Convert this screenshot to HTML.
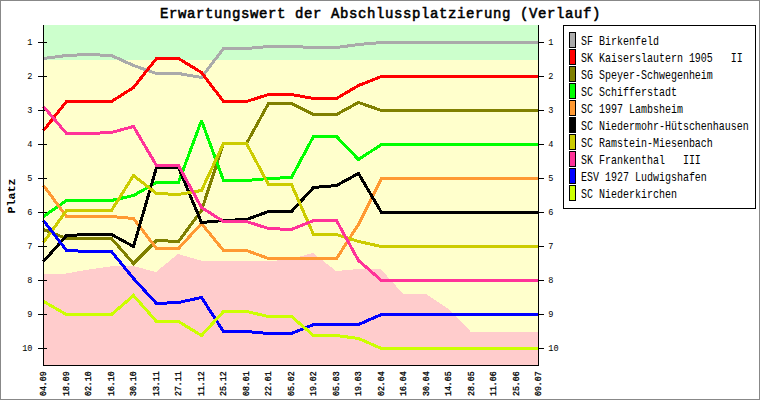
<!DOCTYPE html><html><head><meta charset="utf-8"><style>
html,body{margin:0;padding:0;background:#fff;}svg{display:block;}
text{font-family:"Liberation Mono",monospace;}
</style></head><body>
<svg width="760" height="400" viewBox="0 0 760 400">
<rect x="0" y="0" width="760" height="400" fill="#ffffff"/>
<rect x="0.5" y="0.5" width="759" height="399" fill="none" stroke="#888888" stroke-width="1"/>
<rect x="43" y="25" width="495" height="340" fill="#ffffcc" shape-rendering="crispEdges"/>
<rect x="43" y="25" width="495" height="35" fill="#ccffcc" shape-rendering="crispEdges"/>
<polygon points="43,365 43,274 66,273.5 88,269.6 111,266.3 133,266 156,272 178,254 201,260.6 223,261.4 246,261.4 268,261.4 291,259 313,253 336,271 358,269 381,269.4 403,293.8 426,294 448,308.8 471,332 493,332 516,332 538,332 538,365" fill="#ffcccc" shape-rendering="crispEdges"/>
<path d="M38,42.5H47M535,42.5H544M38,76.5H47M535,76.5H544M38,110.5H47M535,110.5H544M38,144.5H47M535,144.5H544M38,178.5H47M535,178.5H544M38,212.5H47M535,212.5H544M38,246.5H47M535,246.5H544M38,280.5H47M535,280.5H544M38,314.5H47M535,314.5H544M38,348.5H47M535,348.5H544" stroke="#000" stroke-width="1" fill="none" shape-rendering="crispEdges"/>
<polyline points="43.49,58.5 66.49,55.5 88.49,54.5 111.49,55.5 133.49,65.5 156.49,73.5 178.49,73.5 201.49,77.5 223.49,48.5 246.49,48.5 268.49,46.5 291.49,46.5 313.49,47.5 336.49,47.5 358.49,44.5 381.49,42.5 403.49,42.5 426.49,42.5 448.49,42.5 471.49,42.5 493.49,42.5 516.49,42.5 538.49,42.5" fill="none" stroke="#aaaaaa" stroke-width="3" stroke-linecap="butt" stroke-linejoin="miter" stroke-miterlimit="2" shape-rendering="crispEdges"/>
<path d="M43.49,58.5L66.49,55.5M66.49,55.5L88.49,54.5M88.49,54.5L111.49,55.5M111.49,55.5L133.49,65.5M133.49,65.5L156.49,73.5M156.49,73.5L178.49,73.5M178.49,73.5L201.49,77.5M201.49,77.5L223.49,48.5M223.49,48.5L246.49,48.5M246.49,48.5L268.49,46.5M268.49,46.5L291.49,46.5M291.49,46.5L313.49,47.5M313.49,47.5L336.49,47.5M336.49,47.5L358.49,44.5M358.49,44.5L381.49,42.5M381.49,42.5L403.49,42.5M403.49,42.5L426.49,42.5M426.49,42.5L448.49,42.5M448.49,42.5L471.49,42.5M471.49,42.5L493.49,42.5M493.49,42.5L516.49,42.5M516.49,42.5L538.49,42.5" fill="none" stroke="#aaaaaa" stroke-width="3" stroke-linecap="butt" shape-rendering="crispEdges"/>
<polyline points="43.49,130.5 66.49,101.5 88.49,101.5 111.49,101.5 133.49,87.5 156.49,58.5 178.49,58.5 201.49,72.5 223.49,101.5 246.49,101.5 268.49,94.5 291.49,94.5 313.49,98.5 336.49,98.5 358.49,85.5 381.49,76.5 403.49,76.5 426.49,76.5 448.49,76.5 471.49,76.5 493.49,76.5 516.49,76.5 538.49,76.5" fill="none" stroke="#ff0000" stroke-width="3" stroke-linecap="butt" stroke-linejoin="miter" stroke-miterlimit="2" shape-rendering="crispEdges"/>
<path d="M43.49,130.5L66.49,101.5M66.49,101.5L88.49,101.5M88.49,101.5L111.49,101.5M111.49,101.5L133.49,87.5M133.49,87.5L156.49,58.5M156.49,58.5L178.49,58.5M178.49,58.5L201.49,72.5M201.49,72.5L223.49,101.5M223.49,101.5L246.49,101.5M246.49,101.5L268.49,94.5M268.49,94.5L291.49,94.5M291.49,94.5L313.49,98.5M313.49,98.5L336.49,98.5M336.49,98.5L358.49,85.5M358.49,85.5L381.49,76.5M381.49,76.5L403.49,76.5M403.49,76.5L426.49,76.5M426.49,76.5L448.49,76.5M448.49,76.5L471.49,76.5M471.49,76.5L493.49,76.5M493.49,76.5L516.49,76.5M516.49,76.5L538.49,76.5" fill="none" stroke="#ff0000" stroke-width="3" stroke-linecap="butt" shape-rendering="crispEdges"/>
<polyline points="43.49,229.5 66.49,238.5 88.49,238.5 111.49,238.5 133.49,263.5 156.49,240.5 178.49,241.5 201.49,210.5 223.49,143.5 246.49,143.5 268.49,103.5 291.49,103.5 313.49,114.5 336.49,114.5 358.49,102.5 381.49,110.5 403.49,110.5 426.49,110.5 448.49,110.5 471.49,110.5 493.49,110.5 516.49,110.5 538.49,110.5" fill="none" stroke="#808000" stroke-width="3" stroke-linecap="butt" stroke-linejoin="miter" stroke-miterlimit="2" shape-rendering="crispEdges"/>
<path d="M43.49,229.5L66.49,238.5M66.49,238.5L88.49,238.5M88.49,238.5L111.49,238.5M111.49,238.5L133.49,263.5M133.49,263.5L156.49,240.5M156.49,240.5L178.49,241.5M178.49,241.5L201.49,210.5M201.49,210.5L223.49,143.5M223.49,143.5L246.49,143.5M246.49,143.5L268.49,103.5M268.49,103.5L291.49,103.5M291.49,103.5L313.49,114.5M313.49,114.5L336.49,114.5M336.49,114.5L358.49,102.5M358.49,102.5L381.49,110.5M381.49,110.5L403.49,110.5M403.49,110.5L426.49,110.5M426.49,110.5L448.49,110.5M448.49,110.5L471.49,110.5M471.49,110.5L493.49,110.5M493.49,110.5L516.49,110.5M516.49,110.5L538.49,110.5" fill="none" stroke="#808000" stroke-width="3" stroke-linecap="butt" shape-rendering="crispEdges"/>
<polyline points="43.49,216.5 66.49,200.5 88.49,200.5 111.49,200.5 133.49,195.5 156.49,182.5 178.49,182.5 201.49,120.5 223.49,180.5 246.49,180.5 268.49,178.5 291.49,177.5 313.49,136.5 336.49,136.5 358.49,159.5 381.49,144.5 403.49,144.5 426.49,144.5 448.49,144.5 471.49,144.5 493.49,144.5 516.49,144.5 538.49,144.5" fill="none" stroke="#00ff00" stroke-width="3" stroke-linecap="butt" stroke-linejoin="miter" stroke-miterlimit="2" shape-rendering="crispEdges"/>
<path d="M43.49,216.5L66.49,200.5M66.49,200.5L88.49,200.5M88.49,200.5L111.49,200.5M111.49,200.5L133.49,195.5M133.49,195.5L156.49,182.5M156.49,182.5L178.49,182.5M178.49,182.5L201.49,120.5M201.49,120.5L223.49,180.5M223.49,180.5L246.49,180.5M246.49,180.5L268.49,178.5M268.49,178.5L291.49,177.5M291.49,177.5L313.49,136.5M313.49,136.5L336.49,136.5M336.49,136.5L358.49,159.5M358.49,159.5L381.49,144.5M381.49,144.5L403.49,144.5M403.49,144.5L426.49,144.5M426.49,144.5L448.49,144.5M448.49,144.5L471.49,144.5M471.49,144.5L493.49,144.5M493.49,144.5L516.49,144.5M516.49,144.5L538.49,144.5" fill="none" stroke="#00ff00" stroke-width="3" stroke-linecap="butt" shape-rendering="crispEdges"/>
<polyline points="43.49,185.5 66.49,216.5 88.49,216.5 111.49,216.5 133.49,218.5 156.49,248.5 178.49,248.5 201.49,223.5 223.49,250.5 246.49,250.5 268.49,258.5 291.49,258.5 313.49,258.5 336.49,258.5 358.49,224.5 381.49,178.5 403.49,178.5 426.49,178.5 448.49,178.5 471.49,178.5 493.49,178.5 516.49,178.5 538.49,178.5" fill="none" stroke="#ff9933" stroke-width="3" stroke-linecap="butt" stroke-linejoin="miter" stroke-miterlimit="2" shape-rendering="crispEdges"/>
<path d="M43.49,185.5L66.49,216.5M66.49,216.5L88.49,216.5M88.49,216.5L111.49,216.5M111.49,216.5L133.49,218.5M133.49,218.5L156.49,248.5M156.49,248.5L178.49,248.5M178.49,248.5L201.49,223.5M201.49,223.5L223.49,250.5M223.49,250.5L246.49,250.5M246.49,250.5L268.49,258.5M268.49,258.5L291.49,258.5M291.49,258.5L313.49,258.5M313.49,258.5L336.49,258.5M336.49,258.5L358.49,224.5M358.49,224.5L381.49,178.5M381.49,178.5L403.49,178.5M403.49,178.5L426.49,178.5M426.49,178.5L448.49,178.5M448.49,178.5L471.49,178.5M471.49,178.5L493.49,178.5M493.49,178.5L516.49,178.5M516.49,178.5L538.49,178.5" fill="none" stroke="#ff9933" stroke-width="3" stroke-linecap="butt" shape-rendering="crispEdges"/>
<polyline points="43.49,261.5 66.49,235.5 88.49,234.5 111.49,234.5 133.49,246.5 156.49,167.5 178.49,167.5 201.49,222.5 223.49,220.5 246.49,219.5 268.49,211.5 291.49,211.5 313.49,187.5 336.49,185.5 358.49,173.5 381.49,212.5 403.49,212.5 426.49,212.5 448.49,212.5 471.49,212.5 493.49,212.5 516.49,212.5 538.49,212.5" fill="none" stroke="#000000" stroke-width="3" stroke-linecap="butt" stroke-linejoin="miter" stroke-miterlimit="2" shape-rendering="crispEdges"/>
<path d="M43.49,261.5L66.49,235.5M66.49,235.5L88.49,234.5M88.49,234.5L111.49,234.5M111.49,234.5L133.49,246.5M133.49,246.5L156.49,167.5M156.49,167.5L178.49,167.5M178.49,167.5L201.49,222.5M201.49,222.5L223.49,220.5M223.49,220.5L246.49,219.5M246.49,219.5L268.49,211.5M268.49,211.5L291.49,211.5M291.49,211.5L313.49,187.5M313.49,187.5L336.49,185.5M336.49,185.5L358.49,173.5M358.49,173.5L381.49,212.5M381.49,212.5L403.49,212.5M403.49,212.5L426.49,212.5M426.49,212.5L448.49,212.5M448.49,212.5L471.49,212.5M471.49,212.5L493.49,212.5M493.49,212.5L516.49,212.5M516.49,212.5L538.49,212.5" fill="none" stroke="#000000" stroke-width="3" stroke-linecap="butt" shape-rendering="crispEdges"/>
<polyline points="43.49,242.5 66.49,210.5 88.49,210.5 111.49,210.5 133.49,175.5 156.49,193.5 178.49,194.5 201.49,190.5 223.49,143.5 246.49,143.5 268.49,184.5 291.49,184.5 313.49,234.5 336.49,234.5 358.49,241.5 381.49,246.5 403.49,246.5 426.49,246.5 448.49,246.5 471.49,246.5 493.49,246.5 516.49,246.5 538.49,246.5" fill="none" stroke="#cccc00" stroke-width="3" stroke-linecap="butt" stroke-linejoin="miter" stroke-miterlimit="2" shape-rendering="crispEdges"/>
<path d="M43.49,242.5L66.49,210.5M66.49,210.5L88.49,210.5M88.49,210.5L111.49,210.5M111.49,210.5L133.49,175.5M133.49,175.5L156.49,193.5M156.49,193.5L178.49,194.5M178.49,194.5L201.49,190.5M201.49,190.5L223.49,143.5M223.49,143.5L246.49,143.5M246.49,143.5L268.49,184.5M268.49,184.5L291.49,184.5M291.49,184.5L313.49,234.5M313.49,234.5L336.49,234.5M336.49,234.5L358.49,241.5M358.49,241.5L381.49,246.5M381.49,246.5L403.49,246.5M403.49,246.5L426.49,246.5M426.49,246.5L448.49,246.5M448.49,246.5L471.49,246.5M471.49,246.5L493.49,246.5M493.49,246.5L516.49,246.5M516.49,246.5L538.49,246.5" fill="none" stroke="#cccc00" stroke-width="3" stroke-linecap="butt" shape-rendering="crispEdges"/>
<polyline points="43.49,106.5 66.49,133.5 88.49,133.5 111.49,132.5 133.49,126.5 156.49,165.5 178.49,165.5 201.49,207.5 223.49,221.5 246.49,221.5 268.49,228.5 291.49,229.5 313.49,220.5 336.49,220.5 358.49,260.5 381.49,280.5 403.49,280.5 426.49,280.5 448.49,280.5 471.49,280.5 493.49,280.5 516.49,280.5 538.49,280.5" fill="none" stroke="#ff3399" stroke-width="3" stroke-linecap="butt" stroke-linejoin="miter" stroke-miterlimit="2" shape-rendering="crispEdges"/>
<path d="M43.49,106.5L66.49,133.5M66.49,133.5L88.49,133.5M88.49,133.5L111.49,132.5M111.49,132.5L133.49,126.5M133.49,126.5L156.49,165.5M156.49,165.5L178.49,165.5M178.49,165.5L201.49,207.5M201.49,207.5L223.49,221.5M223.49,221.5L246.49,221.5M246.49,221.5L268.49,228.5M268.49,228.5L291.49,229.5M291.49,229.5L313.49,220.5M313.49,220.5L336.49,220.5M336.49,220.5L358.49,260.5M358.49,260.5L381.49,280.5M381.49,280.5L403.49,280.5M403.49,280.5L426.49,280.5M426.49,280.5L448.49,280.5M448.49,280.5L471.49,280.5M471.49,280.5L493.49,280.5M493.49,280.5L516.49,280.5M516.49,280.5L538.49,280.5" fill="none" stroke="#ff3399" stroke-width="3" stroke-linecap="butt" shape-rendering="crispEdges"/>
<polyline points="43.49,220.5 66.49,250.5 88.49,251.5 111.49,251.5 133.49,278.5 156.49,303.5 178.49,302.5 201.49,297.5 223.49,331.5 246.49,331.5 268.49,333.5 291.49,333.5 313.49,324.5 336.49,324.5 358.49,324.5 381.49,314.5 403.49,314.5 426.49,314.5 448.49,314.5 471.49,314.5 493.49,314.5 516.49,314.5 538.49,314.5" fill="none" stroke="#0000ff" stroke-width="3" stroke-linecap="butt" stroke-linejoin="miter" stroke-miterlimit="2" shape-rendering="crispEdges"/>
<path d="M43.49,220.5L66.49,250.5M66.49,250.5L88.49,251.5M88.49,251.5L111.49,251.5M111.49,251.5L133.49,278.5M133.49,278.5L156.49,303.5M156.49,303.5L178.49,302.5M178.49,302.5L201.49,297.5M201.49,297.5L223.49,331.5M223.49,331.5L246.49,331.5M246.49,331.5L268.49,333.5M268.49,333.5L291.49,333.5M291.49,333.5L313.49,324.5M313.49,324.5L336.49,324.5M336.49,324.5L358.49,324.5M358.49,324.5L381.49,314.5M381.49,314.5L403.49,314.5M403.49,314.5L426.49,314.5M426.49,314.5L448.49,314.5M448.49,314.5L471.49,314.5M471.49,314.5L493.49,314.5M493.49,314.5L516.49,314.5M516.49,314.5L538.49,314.5" fill="none" stroke="#0000ff" stroke-width="3" stroke-linecap="butt" shape-rendering="crispEdges"/>
<polyline points="43.49,301.5 66.49,314.5 88.49,314.5 111.49,314.5 133.49,295.5 156.49,321.5 178.49,321.5 201.49,335.5 223.49,311.5 246.49,311.5 268.49,316.5 291.49,316.5 313.49,335.5 336.49,335.5 358.49,338.5 381.49,348.5 403.49,348.5 426.49,348.5 448.49,348.5 471.49,348.5 493.49,348.5 516.49,348.5 538.49,348.5" fill="none" stroke="#ccff00" stroke-width="3" stroke-linecap="butt" stroke-linejoin="miter" stroke-miterlimit="2" shape-rendering="crispEdges"/>
<path d="M43.49,301.5L66.49,314.5M66.49,314.5L88.49,314.5M88.49,314.5L111.49,314.5M111.49,314.5L133.49,295.5M133.49,295.5L156.49,321.5M156.49,321.5L178.49,321.5M178.49,321.5L201.49,335.5M201.49,335.5L223.49,311.5M223.49,311.5L246.49,311.5M246.49,311.5L268.49,316.5M268.49,316.5L291.49,316.5M291.49,316.5L313.49,335.5M313.49,335.5L336.49,335.5M336.49,335.5L358.49,338.5M358.49,338.5L381.49,348.5M381.49,348.5L403.49,348.5M403.49,348.5L426.49,348.5M426.49,348.5L448.49,348.5M448.49,348.5L471.49,348.5M471.49,348.5L493.49,348.5M493.49,348.5L516.49,348.5M516.49,348.5L538.49,348.5" fill="none" stroke="#ccff00" stroke-width="3" stroke-linecap="butt" shape-rendering="crispEdges"/>
<path d="M43.5,25V366M538.5,25V366M43,365.5H539" stroke="#000" stroke-width="1" fill="none" shape-rendering="crispEdges"/>
<text x="32.5" y="44.8" font-size="8.6" text-anchor="end">1</text>
<text x="548.3" y="44.8" font-size="8.6">1</text>
<text x="32.5" y="78.8" font-size="8.6" text-anchor="end">2</text>
<text x="548.3" y="78.8" font-size="8.6">2</text>
<text x="32.5" y="112.8" font-size="8.6" text-anchor="end">3</text>
<text x="548.3" y="112.8" font-size="8.6">3</text>
<text x="32.5" y="146.8" font-size="8.6" text-anchor="end">4</text>
<text x="548.3" y="146.8" font-size="8.6">4</text>
<text x="32.5" y="180.8" font-size="8.6" text-anchor="end">5</text>
<text x="548.3" y="180.8" font-size="8.6">5</text>
<text x="32.5" y="214.8" font-size="8.6" text-anchor="end">6</text>
<text x="548.3" y="214.8" font-size="8.6">6</text>
<text x="32.5" y="248.8" font-size="8.6" text-anchor="end">7</text>
<text x="548.3" y="248.8" font-size="8.6">7</text>
<text x="32.5" y="282.8" font-size="8.6" text-anchor="end">8</text>
<text x="548.3" y="282.8" font-size="8.6">8</text>
<text x="32.5" y="316.8" font-size="8.6" text-anchor="end">9</text>
<text x="548.3" y="316.8" font-size="8.6">9</text>
<text x="32.5" y="350.8" font-size="8.6" text-anchor="end">10</text>
<text x="548.3" y="350.8" font-size="8.6">10</text>
<text transform="translate(45.6,396) rotate(-90)" font-size="8.2" stroke="#000" stroke-width="0.3">04.09</text>
<text transform="translate(68.6,396) rotate(-90)" font-size="8.2" stroke="#000" stroke-width="0.3">18.09</text>
<text transform="translate(90.6,396) rotate(-90)" font-size="8.2" stroke="#000" stroke-width="0.3">02.10</text>
<text transform="translate(113.6,396) rotate(-90)" font-size="8.2" stroke="#000" stroke-width="0.3">16.10</text>
<text transform="translate(135.6,396) rotate(-90)" font-size="8.2" stroke="#000" stroke-width="0.3">30.10</text>
<text transform="translate(158.6,396) rotate(-90)" font-size="8.2" stroke="#000" stroke-width="0.3">13.11</text>
<text transform="translate(180.6,396) rotate(-90)" font-size="8.2" stroke="#000" stroke-width="0.3">27.11</text>
<text transform="translate(203.6,396) rotate(-90)" font-size="8.2" stroke="#000" stroke-width="0.3">11.12</text>
<text transform="translate(225.6,396) rotate(-90)" font-size="8.2" stroke="#000" stroke-width="0.3">25.12</text>
<text transform="translate(248.6,396) rotate(-90)" font-size="8.2" stroke="#000" stroke-width="0.3">08.01</text>
<text transform="translate(270.6,396) rotate(-90)" font-size="8.2" stroke="#000" stroke-width="0.3">22.01</text>
<text transform="translate(293.6,396) rotate(-90)" font-size="8.2" stroke="#000" stroke-width="0.3">05.02</text>
<text transform="translate(315.6,396) rotate(-90)" font-size="8.2" stroke="#000" stroke-width="0.3">19.02</text>
<text transform="translate(338.6,396) rotate(-90)" font-size="8.2" stroke="#000" stroke-width="0.3">05.03</text>
<text transform="translate(360.6,396) rotate(-90)" font-size="8.2" stroke="#000" stroke-width="0.3">19.03</text>
<text transform="translate(383.6,396) rotate(-90)" font-size="8.2" stroke="#000" stroke-width="0.3">02.04</text>
<text transform="translate(405.6,396) rotate(-90)" font-size="8.2" stroke="#000" stroke-width="0.3">16.04</text>
<text transform="translate(428.6,396) rotate(-90)" font-size="8.2" stroke="#000" stroke-width="0.3">30.04</text>
<text transform="translate(450.6,396) rotate(-90)" font-size="8.2" stroke="#000" stroke-width="0.3">14.05</text>
<text transform="translate(473.6,396) rotate(-90)" font-size="8.2" stroke="#000" stroke-width="0.3">28.05</text>
<text transform="translate(495.6,396) rotate(-90)" font-size="8.2" stroke="#000" stroke-width="0.3">11.06</text>
<text transform="translate(518.6,396) rotate(-90)" font-size="8.2" stroke="#000" stroke-width="0.3">25.06</text>
<text transform="translate(540.6,396) rotate(-90)" font-size="8.2" stroke="#000" stroke-width="0.3">09.07</text>
<text x="160" y="18" font-size="14" letter-spacing="0.6" stroke="#000" stroke-width="0.55">Erwartungswert der Abschlussplatzierung (Verlauf)</text>
<text transform="translate(15.2,196) rotate(-90)" font-size="11.7" font-weight="bold" text-anchor="middle">Platz</text>
<rect x="563.5" y="25.5" width="192" height="183" fill="#fff" stroke="#000" stroke-width="1"/>
<rect x="569.5" y="32.5" width="6" height="15" fill="#aaaaaa" stroke="#000" stroke-width="1"/>
<text transform="translate(581,45) scale(1,1.2)" font-size="10" xml:space="preserve">SF Birkenfeld</text>
<rect x="569.5" y="49.5" width="6" height="15" fill="#ff0000" stroke="#000" stroke-width="1"/>
<text transform="translate(581,62) scale(1,1.2)" font-size="10" xml:space="preserve">SK Kaiserslautern 1905   II</text>
<rect x="569.5" y="66.5" width="6" height="15" fill="#808000" stroke="#000" stroke-width="1"/>
<text transform="translate(581,79) scale(1,1.2)" font-size="10" xml:space="preserve">SG Speyer-Schwegenheim</text>
<rect x="569.5" y="83.5" width="6" height="15" fill="#00ff00" stroke="#000" stroke-width="1"/>
<text transform="translate(581,96) scale(1,1.2)" font-size="10" xml:space="preserve">SC Schifferstadt</text>
<rect x="569.5" y="100.5" width="6" height="15" fill="#ff9933" stroke="#000" stroke-width="1"/>
<text transform="translate(581,113) scale(1,1.2)" font-size="10" xml:space="preserve">SC 1997 Lambsheim</text>
<rect x="569.5" y="117.5" width="6" height="15" fill="#000000" stroke="#000" stroke-width="1"/>
<text transform="translate(581,130) scale(1,1.2)" font-size="10" xml:space="preserve">SC Niedermohr-Hütschenhausen</text>
<rect x="569.5" y="134.5" width="6" height="15" fill="#cccc00" stroke="#000" stroke-width="1"/>
<text transform="translate(581,147) scale(1,1.2)" font-size="10" xml:space="preserve">SC Ramstein-Miesenbach</text>
<rect x="569.5" y="151.5" width="6" height="15" fill="#ff3399" stroke="#000" stroke-width="1"/>
<text transform="translate(581,164) scale(1,1.2)" font-size="10" xml:space="preserve">SK Frankenthal   III</text>
<rect x="569.5" y="168.5" width="6" height="15" fill="#0000ff" stroke="#000" stroke-width="1"/>
<text transform="translate(581,181) scale(1,1.2)" font-size="10" xml:space="preserve">ESV 1927 Ludwigshafen</text>
<rect x="569.5" y="185.5" width="6" height="15" fill="#ccff00" stroke="#000" stroke-width="1"/>
<text transform="translate(581,198) scale(1,1.2)" font-size="10" xml:space="preserve">SC Niederkirchen</text>
</svg></body></html>
